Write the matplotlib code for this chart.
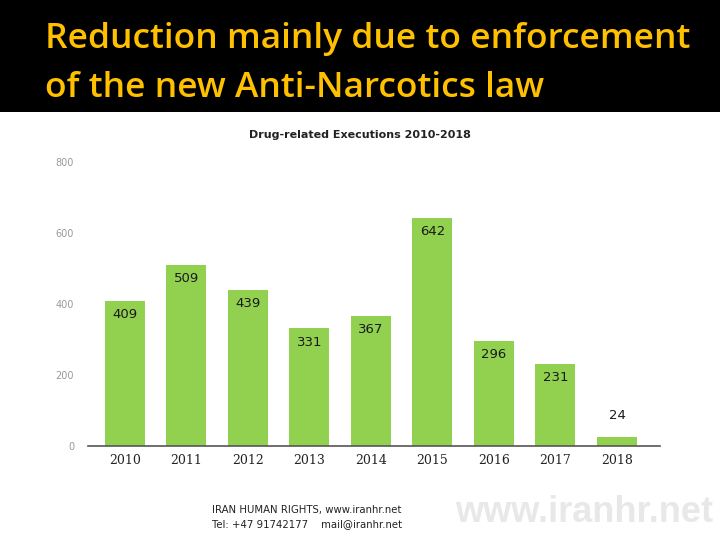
import matplotlib.pyplot as plt
from matplotlib.patches import Rectangle

years = ['2010', '2011', '2012', '2013', '2014', '2015', '2016', '2017', '2018']
executions = [409, 509, 439, 331, 367, 642, 296, 231, 24]
y_ticks = [0, 200, 400, 600, 800]

heading = ['Reduction mainly due to enforcement', 'of the new Anti-Narcotics law']
chart_title = 'Drug-related Executions 2010-2018'
footer = ['IRAN HUMAN RIGHTS, www.iranhr.net', 'Tel: +47 91742177    mail@iranhr.net']

fig = plt.figure(figsize=(7.2, 5.4), dpi=100)
fig.patch.set_facecolor('white')

# black header band
fig.patches.append(Rectangle((0, 1 - 112 / 540), 1, 112 / 540, transform=fig.transFigure,
                             facecolor='black', edgecolor='none', zorder=0))
for i, line in enumerate(heading):
    fig.text(45 / 720, 1 - (39 + i * 49) / 540, line, color='#FFC000', fontsize=25.5,
             family='Open Sans', fontweight='semibold', va='center', ha='left')

ax = fig.add_axes([88 / 720, 1 - 446 / 540, (660 - 88) / 720, (446 - 162) / 540])
x = range(len(years))
ax.bar(x, executions, width=0.65, color='#92D050', zorder=2)
for xi, v in zip(x, executions):
    if v > 100:
        ax.text(xi, v - 20, str(v), ha='center', va='top', fontsize=9.5, color='#1a1a1a')
    else:
        ax.text(xi, v + 45, str(v), ha='center', va='bottom', fontsize=9.5, color='#1a1a1a')

ax.set_ylim(0, 800)
ax.set_xlim(-0.6, 8.7)
ax.set_yticks(y_ticks)
ax.set_yticklabels([str(t) for t in y_ticks], fontsize=7, color='#999999')
ax.set_xticks(list(x))
ax.set_xticklabels(years, fontsize=9, family='DejaVu Serif', color='#222222')
ax.tick_params(axis='both', length=0)
ax.tick_params(axis='y', pad=10)
ax.tick_params(axis='x', pad=6)
for s in ['top', 'right', 'left']:
    ax.spines[s].set_visible(False)
ax.spines['bottom'].set_color('#555555')
ax.spines['bottom'].set_linewidth(1.2)
ax.set_facecolor('white')

fig.text(360 / 720, 1 - 135 / 540, chart_title, ha='center', va='center', fontsize=8,
         fontweight='bold', color='#222222')

# footer
for i, line in enumerate(footer):
    fig.text(212 / 720, 1 - (510 + i * 14) / 540, line, fontsize=7.3, color='#222222',
             va='center', ha='left')
fig.text(455 / 720, 1 - 512 / 540, 'www.iranhr.net', fontsize=26, fontweight='bold',
         color='#e8e8e8', va='center', ha='left', family='Liberation Sans')

fig.savefig('out.png', dpi=100)
